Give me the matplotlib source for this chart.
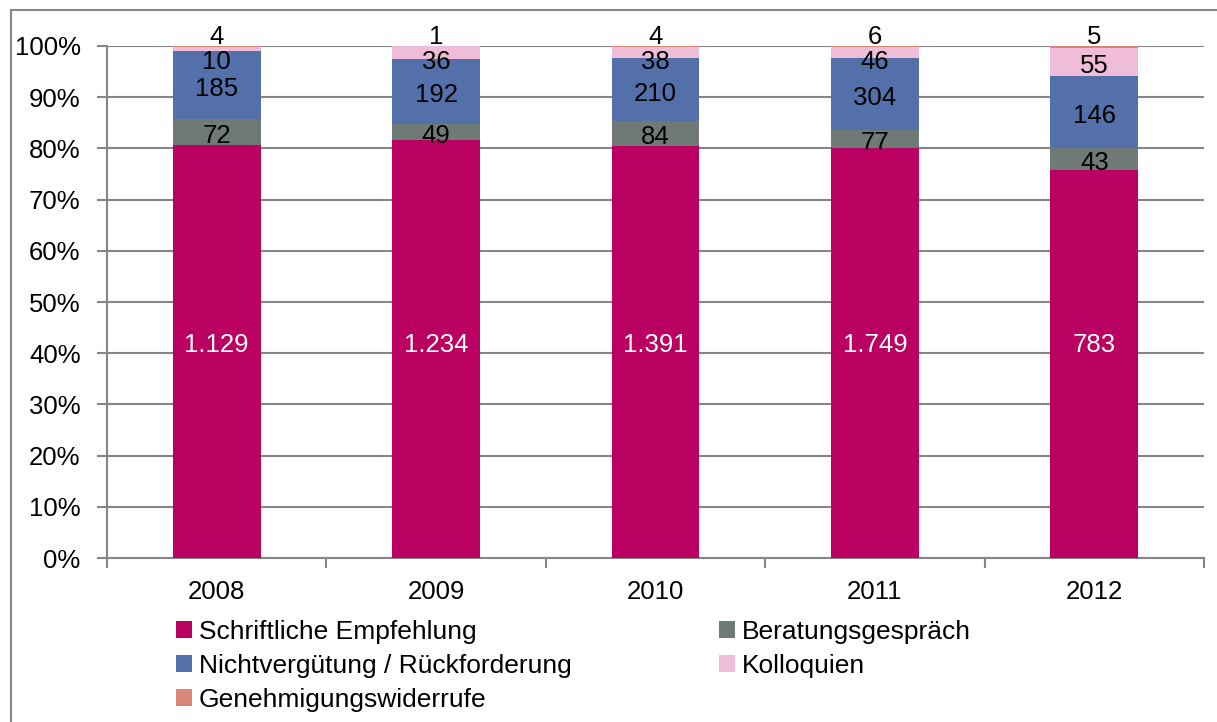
import matplotlib.pyplot as plt
import matplotlib.patches as mpatches
import numpy as np

plt.rcParams['font.family'] = ['Liberation Sans', 'DejaVu Sans']

years = ["2008", "2009", "2010", "2011", "2012"]
schriftlich = [1129, 1234, 1391, 1749, 783]
beratung = [72, 49, 84, 77, 43]
nichtverg = [185, 192, 210, 304, 146]
kolloquien = [10, 36, 38, 46, 55]
widerruf = [4, 1, 4, 6, 5]

series = [
    ("Schriftliche Empfehlung", schriftlich, "#BA0060"),
    ("Beratungsgespräch", beratung, "#6F7975"),
    ("Nichtvergütung / Rückforderung", nichtverg, "#5370AA"),
    ("Kolloquien", kolloquien, "#EFBDD7"),
    ("Genehmigungswiderrufe", widerruf, "#DA8676"),
]

def fmt(v):
    return f"{v:,}".replace(",", ".")

totals = np.sum([s[1] for s in series], axis=0)
x = np.arange(len(years))
FS = 18.5

fig = plt.figure(figsize=(12.17, 7.22), dpi=100)
ax = fig.add_axes([0.0879, 0.2271, 0.9014, 0.7092])

# Rahmen um das ganze Diagramm
fig.patches.append(mpatches.Rectangle((11 / 1217, -0.1), 1.2, 1 - 10 / 722 + 0.1,
                                      transform=fig.transFigure, fill=False,
                                      edgecolor="#868686", linewidth=1.5))

bottom = np.zeros(len(years))
handles = []
centers = []
for name, vals, col in series:
    frac = np.array(vals) / totals
    h = ax.bar(x, frac, 0.4, bottom=bottom, color=col, label=name, zorder=3)
    handles.append(h)
    centers.append(bottom + frac / 2)
    bottom += frac

# Beschriftungen, von oben nach unten ohne Überlappung
for i in range(len(years)):
    prev = None
    for k in range(len(series) - 1, -1, -1):
        name, vals, col = series[k]
        if k == len(series) - 1:
            ax.annotate(fmt(vals[i]), (x[i], 1.0), xytext=(0, -2), textcoords="offset points",
                        ha="center", va="bottom", fontsize=FS, zorder=5)
            prev = 1.027
            continue
        if k == 0:
            # große Werte stehen bei Excel alle auf gleicher Höhe
            y = 0.425
            color = "white"
        else:
            y = centers[k][i]
            if prev is not None and y > prev - 0.05:
                y = prev - 0.05
            prev = y
            color = "black"
        ax.annotate(fmt(vals[i]), (x[i], y), xytext=(0, -3), textcoords="offset points",
                    ha="center", va="center", fontsize=FS, color=color, zorder=5)

ax.set_xlim(-0.5, len(years) - 0.5)
ax.set_ylim(0, 1)
ax.set_yticks(np.arange(0, 1.01, 0.1))
ax.set_yticklabels([f"{int(round(t * 100))}%" for t in np.arange(0, 1.01, 0.1)], fontsize=FS)
ax.set_xticks(x)
ax.set_xticklabels(years, fontsize=FS)
ax.set_xticks(np.arange(-0.5, len(years), 1), minor=True)
ax.tick_params(axis="x", which="major", length=0, pad=16)
ax.tick_params(axis="x", which="minor", length=7, color="#868686", width=1.5)
ax.tick_params(axis="y", length=7, color="#868686", width=1.5, pad=12)
ax.grid(axis="y", color="#868686", linewidth=1.5, zorder=0)
for s in ["top", "right"]:
    ax.spines[s].set_visible(False)
for s in ["left", "bottom"]:
    ax.spines[s].set_color("#868686")
    ax.spines[s].set_linewidth(1.5)

order = [0, 2, 4, 1, 3]
leg = fig.legend([handles[j] for j in order], [series[j][0] for j in order],
                 ncol=2, loc="upper left", bbox_to_anchor=(0.134, 0.16),
                 frameon=False, fontsize=19, handlelength=0.6, handleheight=0.6,
                 handletextpad=0.25, labelspacing=0.38, columnspacing=5.6,
                 borderpad=0)

fig.savefig("out.png", dpi=100)
